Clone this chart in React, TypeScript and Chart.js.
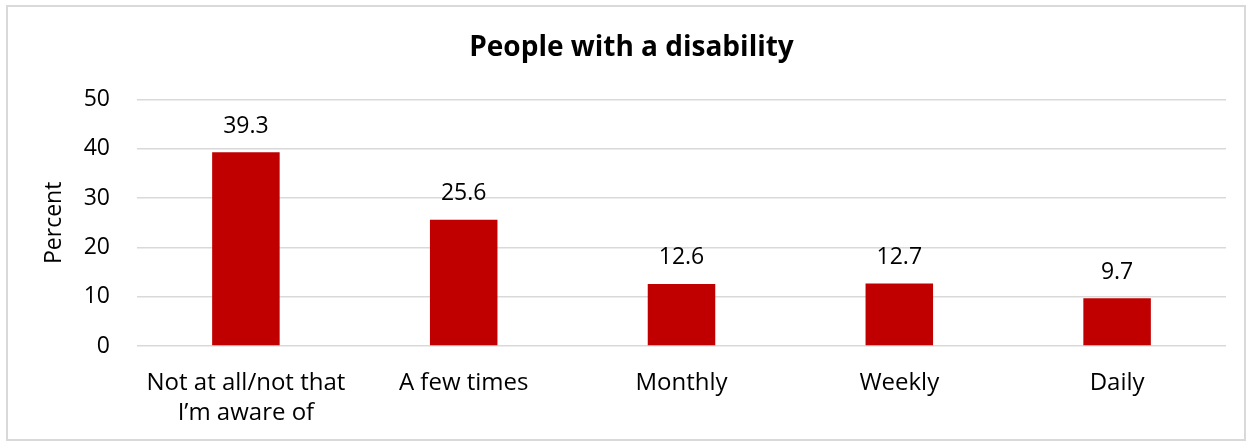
import React, { useEffect, useRef } from "react";
import { Chart, registerables } from "chart.js";

Chart.register(...registerables);

const chartTitle = "People with a disability";
const yAxisTitle = "Percent";
const categories: (string | string[])[] = [
  ["Not at all/not that", "I\u2019m aware of"],
  "A few times",
  "Monthly",
  "Weekly",
  "Daily",
];
const values = [39.3, 25.6, 12.6, 12.7, 9.7];
const yMin = 0;
const yMax = 50;
const yStep = 10;

const FONT = "'Open Sans', Lato, sans-serif";

const valueLabels = {
  id: "valueLabels",
  afterDatasetsDraw(chart: any) {
    const ctx = chart.ctx;
    const meta = chart.getDatasetMeta(0);
    ctx.save();
    ctx.font = `23px ${FONT}`;
    ctx.fillStyle = "#000000";
    ctx.textAlign = "center";
    ctx.textBaseline = "middle";
    meta.data.forEach((bar: any, i: number) => {
      const v = chart.data.datasets[0].data[i];
      ctx.fillText(Number(v).toFixed(1), bar.x, bar.y - 26);
    });
    ctx.restore();
  },
};

export default function App() {
  const canvasRef = useRef<HTMLCanvasElement | null>(null);

  useEffect(() => {
    document.body.style.margin = "0";
    const canvas = canvasRef.current;
    if (!canvas) return;
    const chart = new Chart(canvas, {
      type: "bar",
      data: {
        labels: categories,
        datasets: [
          {
            data: values,
            backgroundColor: "#C00000",
            borderWidth: 0,
            categoryPercentage: 1,
            barPercentage: 0.31,
          },
        ],
      },
      options: {
        animation: false,
        responsive: false,
        maintainAspectRatio: false,
        layout: { padding: { left: 37, right: 27, top: 0, bottom: 0 } },
        plugins: {
          legend: { display: false },
          tooltip: { enabled: false },
          title: {
            display: true,
            text: chartTitle,
            color: "#000000",
            font: { family: FONT, size: 28, weight: "bold", lineHeight: 1.2 },
            padding: { top: 31, bottom: 35 },
          },
        },
        scales: {
          x: {
            grid: { display: false, drawTicks: false },
            border: { display: false },
            ticks: {
              color: "#000000",
              font: { family: FONT, size: 24, lineHeight: 1.25 },
              padding: 22,
              maxRotation: 0,
              autoSkip: false,
            },
            afterFit(scale: any) {
              scale.height = 101;
            },
          },
          y: {
            min: yMin,
            max: yMax,
            grid: { color: "#d9d9d9", lineWidth: 1.5, drawTicks: false },
            border: { display: false },
            ticks: {
              stepSize: yStep,
              color: "#000000",
              font: { family: FONT, size: 23 },
              padding: 27,
            },
            title: {
              display: true,
              text: yAxisTitle,
              color: "#000000",
              font: { family: FONT, size: 23 },
              padding: 4,
            },
            afterFit(scale: any) {
              scale.width = 100;
            },
          },
        },
      },
      plugins: [valueLabels],
    });
    return () => chart.destroy();
  }, []);

  return (
    <div style={{ position: "relative", width: 1253, height: 447, overflow: "hidden", background: "#ffffff" }}>
      <div
        style={{
          position: "absolute",
          left: 6,
          top: 5,
          width: 1240,
          height: 436,
          boxSizing: "border-box",
          border: "2px solid #d9d9d9",
        }}
      />
      <canvas ref={canvasRef} width={1253} height={447} style={{ position: "absolute", left: 0, top: 0 }} />
    </div>
  );
}
